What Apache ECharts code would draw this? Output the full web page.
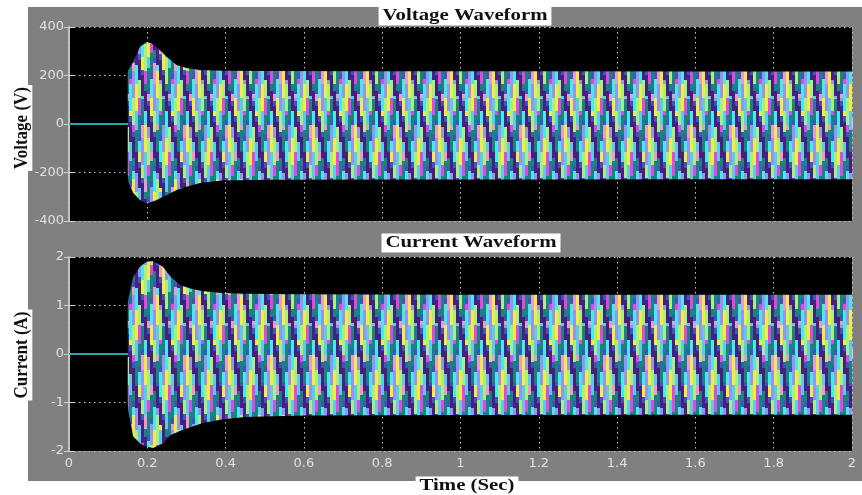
<!DOCTYPE html>
<html>
<head>
<meta charset="utf-8">
<script src="https://cdn.jsdelivr.net/npm/echarts@6/dist/echarts.min.js"></script>
<style>html,body{margin:0;padding:0;background:#fff}#c{width:862px;height:495px}</style>
</head>
<body>
<div id="c"></div>
<script>
// ---------- data ----------
const xTicks = [0, 0.2, 0.4, 0.6, 0.8, 1, 1.2, 1.4, 1.6, 1.8, 2];
const vTicks = [-400, -200, 0, 200, 400];
const cTicks = [-2, -1, 0, 1, 2];

const preTimes = [0, 0.15];
const preValues = [0, 0];

// voltage envelope (upper / lower), V
const vTimes = [0.15, 0.152, 0.164, 0.181, 0.198, 0.211, 0.224, 0.25, 0.275, 0.30, 0.335, 0.39, 0.5, 0.8, 1.2, 1.6, 2.0];
const vUpper = [215, 225, 256, 318, 338, 332, 318, 276, 243, 231, 223, 220, 219, 218, 218, 217, 217];
const vLower = [-205, -240, -285, -313, -326, -322, -313, -293, -272, -259, -243, -233, -230, -229, -229, -228, -228];

// current envelope (upper / lower), A
const cTimes = [0.15, 0.152, 0.164, 0.181, 0.198, 0.215, 0.24, 0.26, 0.285, 0.31, 0.34, 0.39, 0.45, 0.6, 1.0, 1.5, 2.0];
const cUpper = [1.05, 1.15, 1.59, 1.80, 1.90, 1.92, 1.80, 1.59, 1.42, 1.35, 1.30, 1.26, 1.24, 1.23, 1.22, 1.22, 1.22];
const cLower = [-1.0, -1.2, -1.70, -1.84, -1.91, -1.94, -1.84, -1.67, -1.58, -1.51, -1.43, -1.35, -1.30, -1.27, -1.26, -1.25, -1.25];

// ---------- layout / style ----------
const G0 = {left: 69, top: 27, width: 783, height: 194};
const G1 = {left: 69, top: 257, width: 783, height: 194};

// fill texture for the waveform band (style only): coloured columns with a dark diamond lattice
function makeTexture() {
  const CW = 3, NC = 7, W = CW * NC * 2, H = 495;
  const cv = document.createElement('canvas');
  cv.width = W; cv.height = H;
  const g = cv.getContext('2d');
  const img = g.createImageData(W, H);
  const hex = h => [parseInt(h.slice(1, 3), 16), parseInt(h.slice(3, 5), 16), parseInt(h.slice(5, 7), 16)];
  const bright = ['#f0ec48', '#4ae8ea', '#e048e0', '#a8ee80', '#9894ee', '#f098c6', '#60c8ee'].map(hex);
  const purple = hex('#46207e'), teal = hex('#1a8282'), blue = hex('#3e56b6');
  const bands = [
    {y0: G0.top, y1: G0.top + G0.height, yc: G0.top + G0.height / 2, half: 54},
    {y0: G1.top, y1: G1.top + G1.height, yc: G1.top + G1.height / 2, half: 60}
  ];
  const frac = v => v - Math.floor(v);
  for (let y = 0; y < H; y++) {
    const b = bands.find(bb => y >= bb.y0 && y <= bb.y1);
    if (!b) continue;
    const s = (b.yc - y) / b.half;
    for (let x = 0; x < W; x++) {
      const c = Math.floor(x / CW);
      const u = frac(c / NC + s / 2 + 0.02);
      const v = frac(c / NC - s / 2 + 0.52);
      let col;
      if (u < 0.19) col = purple;
      else if (v < 0.19) col = teal;
      else if (u < 0.24 || v < 0.24) col = blue;
      else col = bright[((c * 3) + Math.floor((s + 2) * 2.0 + (c % 2) * 0.5)) % bright.length];
      const i = (y * W + x) * 4;
      img.data[i] = col[0]; img.data[i + 1] = col[1]; img.data[i + 2] = col[2]; img.data[i + 3] = 255;
    }
  }
  g.putImageData(img, 0, 0);
  return cv;
}
const tex = {image: makeTexture(), repeat: 'repeat'};

const zip = (a, b) => a.map((v, i) => [v, b[i]]);

const labelColor = '#e0e0e0';
const gridLine = {show: true, lineStyle: {color: '#c8c8c8', type: [1.5, 3.5], width: 1}};
const tick = {show: true, inside: true, length: 5, lineStyle: {color: '#d0d0d0'}};
const axisLine = {show: true, lineStyle: {color: '#c8c8c8', width: 1.5}};

function xAxisFor(gi, showLabel) {
  return [{
    type: 'value', gridIndex: gi, min: 0, max: 2, interval: 0.2, position: 'bottom',
    axisLine: axisLine, axisTick: tick, splitLine: gridLine,
    axisLabel: {show: showLabel, color: labelColor, fontFamily: 'DejaVu Sans', fontSize: 13, margin: 6,
      formatter: v => String(Math.round(v * 10) / 10)}
  }, {
    type: 'value', gridIndex: gi, min: 0, max: 2, interval: 0.2, position: 'top',
    axisLine: axisLine, axisTick: tick, splitLine: {show: false}, axisLabel: {show: false}
  }];
}
function yAxisFor(gi, min, max, interval) {
  return [{
    type: 'value', gridIndex: gi, min: min, max: max, interval: interval, position: 'left',
    axisLine: axisLine, axisTick: tick, splitLine: gridLine,
    axisLabel: {color: labelColor, fontFamily: 'DejaVu Sans', fontSize: 13, margin: 5}
  }, {
    type: 'value', gridIndex: gi, min: min, max: max, interval: interval, position: 'right',
    axisLine: axisLine, axisTick: tick, splitLine: {show: false}, axisLabel: {show: false}
  }];
}

function band(name, xi, yi, data) {
  return {
    name: name, type: 'line', xAxisIndex: xi, yAxisIndex: yi, data: data,
    showSymbol: false, symbol: 'none', lineStyle: {opacity: 0, width: 0},
    areaStyle: {color: tex, opacity: 1, origin: 'auto'}, z: 3, silent: true
  };
}
function preLine(xi, yi) {
  return {
    type: 'line', xAxisIndex: xi, yAxisIndex: yi, data: zip(preTimes, preValues),
    showSymbol: false, symbol: 'none', lineStyle: {color: '#22a9a9', width: 2}, z: 4, silent: true
  };
}

const chart = echarts.init(document.getElementById('c'), null, {renderer: 'canvas'});
chart.setOption({
  animation: false,
  backgroundColor: '#ffffff',
  grid: [
    Object.assign({show: true, backgroundColor: '#000', borderWidth: 0, containLabel: false}, G0),
    Object.assign({show: true, backgroundColor: '#000', borderWidth: 0, containLabel: false}, G1)
  ],
  xAxis: [...xAxisFor(0, false), ...xAxisFor(1, true)],
  yAxis: [...yAxisFor(0, -400, 400, 200), ...yAxisFor(1, -2, 2, 1)],
  series: [
    preLine(0, 0),
    band('vUpper', 0, 0, zip(vTimes, vUpper)),
    band('vLower', 0, 0, zip(vTimes, vLower)),
    preLine(2, 2),
    band('cUpper', 2, 2, zip(cTimes, cUpper)),
    band('cLower', 2, 2, zip(cTimes, cLower))
  ],
  graphic: [
    {type: 'rect', z: -100, silent: true, shape: {x: 28, y: 7, width: 834, height: 474}, style: {fill: '#808080'}},
    {type: 'text', z: 100, x: 465, y: 16, scaleX: 1.3,
      style: {text: 'Voltage Waveform', font: 'bold 16px "Liberation Serif"', fill: '#111', align: 'center', verticalAlign: 'middle',
        backgroundColor: '#fff', padding: [2, 3, 1, 3]}},
    {type: 'text', z: 100, x: 471, y: 243, scaleX: 1.3,
      style: {text: 'Current Waveform', font: 'bold 16px "Liberation Serif"', fill: '#111', align: 'center', verticalAlign: 'middle',
        backgroundColor: '#fff', padding: [2, 3, 1, 3]}},
    {type: 'text', z: 100, x: 467, y: 486, scaleX: 1.3,
      style: {text: 'Time (Sec)', font: 'bold 16px "Liberation Serif"', fill: '#111', align: 'center', verticalAlign: 'middle',
        backgroundColor: '#fff', padding: [2, 3, 1, 3]}},
    {type: 'text', z: 100, x: 22, y: 128, rotation: Math.PI / 2, scaleY: 1.15,
      style: {text: 'Voltage (V)', font: 'bold 17px "Liberation Serif"', fill: '#111', align: 'center', verticalAlign: 'middle',
        backgroundColor: '#fff', padding: [1, 2, 0, 2]}},
    {type: 'text', z: 100, x: 22, y: 355, rotation: Math.PI / 2, scaleY: 1.15,
      style: {text: 'Current (A)', font: 'bold 17px "Liberation Serif"', fill: '#111', align: 'center', verticalAlign: 'middle',
        backgroundColor: '#fff', padding: [1, 2, 0, 2]}}
  ]
});
</script>
</body>
</html>
